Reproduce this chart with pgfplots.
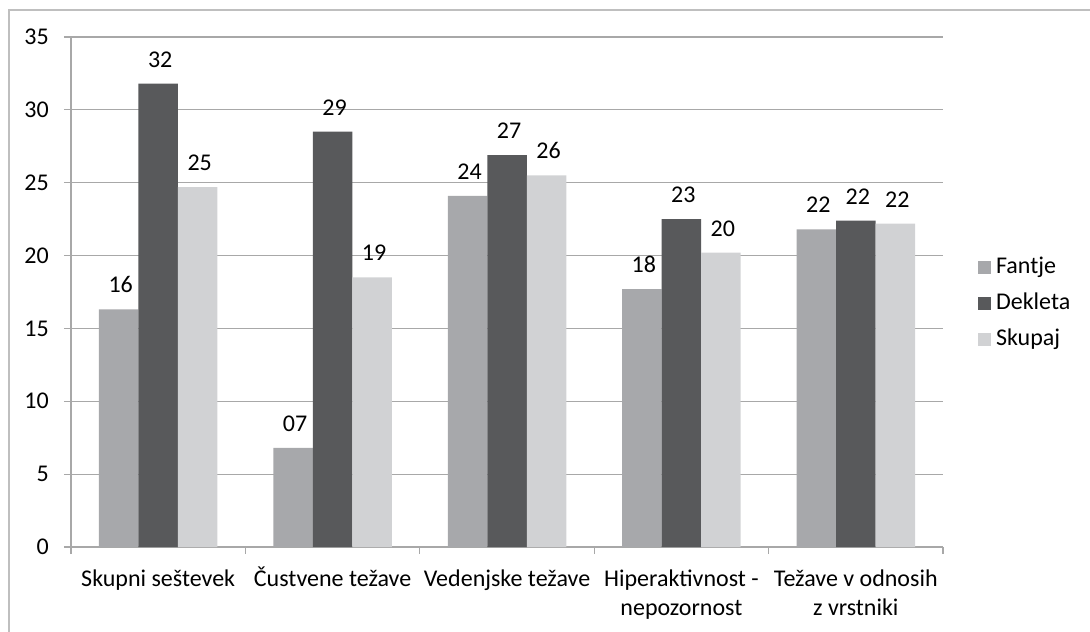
\documentclass[border=0pt]{standalone}
\usepackage{pgfplots}
\pgfplotsset{compat=1.18}
\usepackage{fontspec}
\setmainfont{Carlito}
\definecolor{cF}{HTML}{A7A8AB}
\definecolor{cD}{HTML}{58595B}
\definecolor{cS}{HTML}{D1D2D4}
\definecolor{cG}{HTML}{A8A8A8}
\newcommand{\chfont}{\fontsize{24}{29}\selectfont}
\begin{document}
\chfont
\begin{tikzpicture}
\begin{axis}[
  scale only axis, width=872pt, height=510pt,
  ymin=0, ymax=35, ytick={0,5,...,35},
  xmin=-0.5, xmax=4.5,
  xtick={-0.5,0.5,...,4.5}, xticklabels={},
  extra x ticks={0,1,2,3,4},
  extra x tick labels={
    Skupni seštevek,
    Čustvene težave,
    Vedenjske težave,
    {\begin{tabular}[t]{@{}c@{}}Hiperaktivnost -\\nepozornost\end{tabular}},
    {\begin{tabular}[t]{@{}c@{}}Težave v odnosih\\z vrstniki\end{tabular}}},
  extra x tick style={major tick length=0pt,
    xticklabel style={anchor=base, yshift=-39pt, inner sep=0pt}},
  axis lines=left, axis line style={cG, line width=1.2pt, -},
  ymajorgrids, grid style={cG, line width=1.2pt},
  tick align=outside, major tick length=7pt,
  tick style={cG, line width=1.2pt},
  /pgf/number format/assume math mode=true,
  ticklabel style={font=\chfont},
  yticklabel style={anchor=east, inner sep=0pt, xshift=-15pt},
  ybar=0pt, bar width=39.5pt,
  point meta=explicit symbolic,
  nodes near coords,
  every node near coord/.append style={anchor=base, inner sep=0pt,
    yshift=16.5pt, xshift=2pt, text=black, font=\chfont},
  legend image code/.code={\fill[#1] (0pt,-6.5pt) rectangle (13pt,6.5pt);},
  legend style={draw=none, fill=none, at={(1.040,0.4765)}, anchor=west,
    inner sep=0pt, row sep=17pt, column sep=5pt,
    nodes={inner sep=0pt, text height=15pt, text depth=4pt},
    font=\chfont},
  legend cell align=left,
  clip=false,
]
\addplot[fill=cF, draw=none] coordinates {(0,16.3)[16] (1,6.8)[07] (2,24.1)[24] (3,17.7)[18] (4,21.8)[22]};
\addplot[fill=cD, draw=none] coordinates {(0,31.8)[32] (1,28.5)[29] (2,26.9)[27] (3,22.5)[23] (4,22.4)[22]};
\addplot[fill=cS, draw=none] coordinates {(0,24.7)[25] (1,18.5)[19] (2,25.5)[26] (3,20.2)[20] (4,22.2)[22]};
\legend{Fantje, Dekleta, Skupaj}
\end{axis}
\draw[color=gray!50, line width=1.2pt] (-62pt,-85pt) -- (-62pt,537pt) -- (1019pt,537pt);
\pgfresetboundingbox
\path[use as bounding box] (-71pt,-85pt) rectangle (1019pt,547pt);
\end{tikzpicture}
\end{document}
